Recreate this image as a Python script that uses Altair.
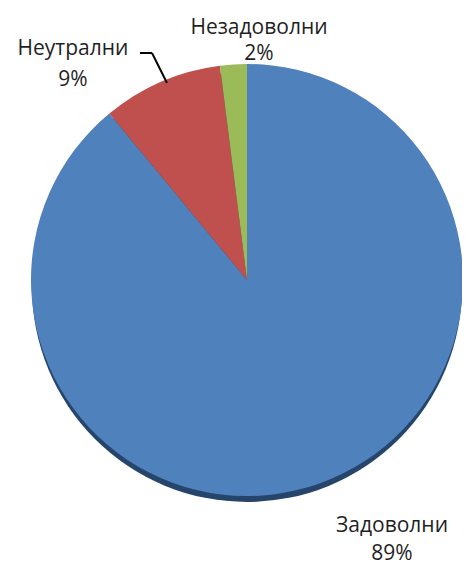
import altair as alt
import pandas as pd

categories = ["Задоволни", "Неутрални", "Незадоволни"]
values = [89, 9, 2]
percent_labels = ["89%", "9%", "2%"]
colors = ["#4f81bd", "#c0504d", "#9bbb59"]

df = pd.DataFrame({"cat": categories, "val": values, "order": [0, 1, 2], "pct": percent_labels})

CX, CY, R = 239, 272, 216
FONT = "Open Sans"
FS = 21

shadow = alt.Chart(pd.DataFrame({"v": [1]})).mark_arc(
    radius=R - 1, color="#26456b"
).encode(theta=alt.Theta("v:Q"), x=alt.value(CX), y=alt.value(CY + 7))

pie = alt.Chart(df).mark_arc(radius=R, stroke=None).encode(
    theta=alt.Theta("val:Q", stack=True),
    order=alt.Order("order:Q"),
    color=alt.Color("cat:N", scale=alt.Scale(domain=categories, range=colors), legend=None),
    x=alt.value(CX),
    y=alt.value(CY),
)

label_pos = pd.DataFrame({
    "cat": categories,
    "pct": percent_labels,
    "lx": [384, 65, 251],
    "ly1": [518, 41, 19.5],
    "ly2": [546, 71.5, 46],
})

names = alt.Chart(label_pos).mark_text(font=FONT, fontSize=FS, color="#1f1f1f", baseline="middle", align="center").encode(
    text="cat:N", x=alt.X("lx:Q", scale=None), y=alt.Y("ly1:Q", scale=None)
)
pcts = alt.Chart(label_pos).mark_text(font=FONT, fontSize=FS, color="#1f1f1f", baseline="middle", align="center").encode(
    text="pct:N", x=alt.X("lx:Q", scale=None), y=alt.Y("ly2:Q", scale=None)
)

seg = pd.DataFrame({"x1": [132, 144], "y1": [45, 45], "x2": [144, 159], "y2": [45, 75]})
leader = alt.Chart(seg).mark_rule(color="#000000", strokeWidth=2).encode(
    x=alt.X("x1:Q", scale=None), y=alt.Y("y1:Q", scale=None),
    x2="x2:Q", y2="y2:Q",
)

chart = alt.layer(shadow, pie, leader, names, pcts).resolve_scale(
    theta="independent"
).properties(
    width=454, height=558, padding=0, autosize="none"
).configure_view(stroke=None)

chart.save("out.html", embed_options={"renderer": "svg", "actions": False})
